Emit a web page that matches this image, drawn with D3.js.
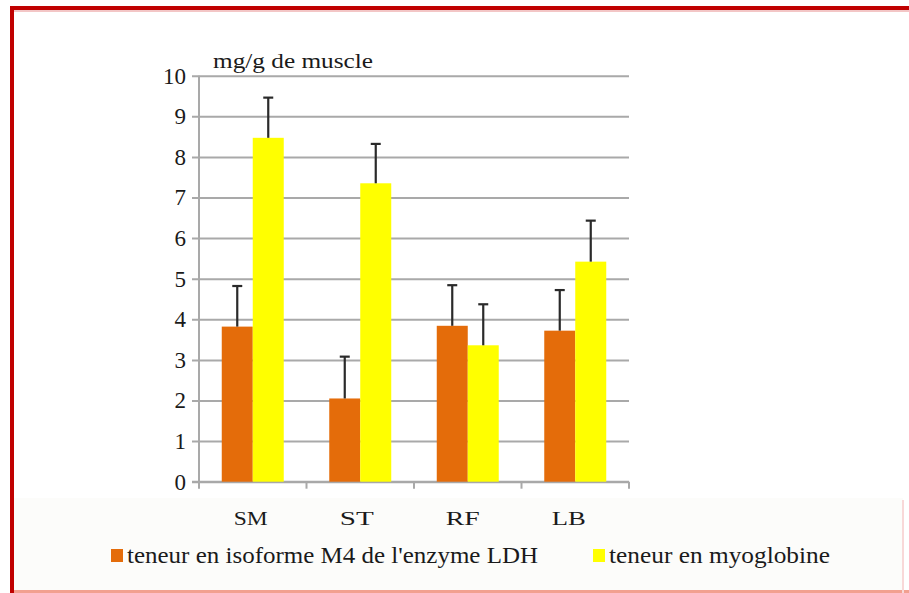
<!DOCTYPE html>
<html>
<head>
<meta charset="utf-8">
<script src="https://cdn.jsdelivr.net/npm/d3@7"></script>
<style>
html,body{margin:0;padding:0;background:#fff;}
svg{display:block;}
</style>
</head>
<body>
<svg id="chart" width="909" height="593" style="font-family:'Liberation Serif'"></svg>
<script>
// ---- data ----
const categories = ["SM", "ST", "RF", "LB"];
const seriesNames = ["teneur en isoforme M4 de l'enzyme LDH", "teneur en myoglobine"];
const ldhValues = [3.82, 2.05, 3.84, 3.72];
const ldhErrors = [1.0, 1.03, 1.0, 1.0];
const myoValues = [8.47, 7.35, 3.36, 5.42];
const myoErrors = [0.99, 0.97, 1.01, 1.01];
const yTicks = [0, 1, 2, 3, 4, 5, 6, 7, 8, 9, 10];
const yUnit = "mg/g de muscle";

(function () {
const FONT = "'Liberation Serif'";
const TXT = "#1a1a1a";
const colors = ["#E46C0A", "#FFFF00"];
const svg = d3.select("#chart");

// frame
svg.append("rect").attr("x", 14).attr("y", 498).attr("width", 889).attr("height", 93).attr("fill", "#fcfcfa");
svg.append("rect").attr("x", 10).attr("y", 10).attr("width", 899).attr("height", 2).attr("fill", "#f3c6c6");
svg.append("rect").attr("x", 10).attr("y", 6).attr("width", 899).attr("height", 4).attr("fill", "#c00000");
svg.append("rect").attr("x", 10).attr("y", 6).attr("width", 4).attr("height", 587).attr("fill", "#c00000");
svg.append("rect").attr("x", 14).attr("y", 590).attr("width", 895).attr("height", 3).attr("fill", "#f2a090");
svg.append("rect").attr("x", 902).attr("y", 500).attr("width", 2).attr("height", 93).attr("fill", "#f8d8d8");

const pLeft = 199, pRight = 629, pTop = 75.7, pBottom = 481.7;
const y = d3.scaleLinear().domain([0, 10]).range([pBottom, pTop]);
const x = d3.scaleBand().domain(categories).range([pLeft, pRight]).padding(0);
const x1 = d3.scaleBand().domain([0, 1]).range([0, x.bandwidth()]).paddingInner(0).paddingOuter(0.734);

// gridlines + y ticks
const yAxis = d3.axisLeft(y).tickValues(yTicks).tickSize(-(pRight - pLeft)).tickPadding(13).tickFormat(d3.format("d"));
const gy = svg.append("g").attr("transform", `translate(${pLeft},0)`).call(yAxis);
gy.attr("font-family", "Liberation Serif").attr("font-size", 23);
gy.select(".domain").remove();
gy.selectAll(".tick line").attr("x1", -7).attr("stroke", "#a9a9a9").attr("stroke-width", 2);
gy.selectAll(".tick text").style("font-family", FONT).style("font-size", "23px").attr("fill", TXT);

// y axis line
svg.append("line").attr("x1", pLeft).attr("x2", pLeft).attr("y1", pTop).attr("y2", pBottom)
  .attr("stroke", "#a9a9a9").attr("stroke-width", 2);

// x axis
const xAxis = d3.axisBottom(x).tickSize(0).tickFormat("");
const gx = svg.append("g").attr("transform", `translate(0,${pBottom})`).call(xAxis);
gx.select(".domain").attr("stroke", "#a9a9a9").attr("stroke-width", 2).attr("d", `M${pLeft - 7},0H${pRight}`);
const boundaries = [pLeft].concat(categories.map(c => x(c) + x.bandwidth()));
gx.selectAll(".bnd").data(boundaries).enter().append("line")
  .attr("x1", d => d).attr("x2", d => d).attr("y1", 0).attr("y2", 7)
  .attr("stroke", "#a9a9a9").attr("stroke-width", 2);

// bars
const series = [
  { vals: ldhValues, errs: ldhErrors },
  { vals: myoValues, errs: myoErrors }
];
series.forEach((s, si) => {
  const g = svg.append("g");
  g.selectAll("rect").data(categories).enter().append("rect")
    .attr("x", c => x(c) + x1(si))
    .attr("y", (c, i) => y(s.vals[i]))
    .attr("width", x1.bandwidth())
    .attr("height", (c, i) => y(0) - y(s.vals[i]))
    .attr("fill", colors[si]);
});
// error bars
series.forEach((s, si) => {
  const g = svg.append("g").attr("stroke", "#2a2a2a").attr("stroke-width", 2.2);
  categories.forEach((c, i) => {
    const cx = x(c) + x1(si) + x1.bandwidth() / 2;
    const yt = y(s.vals[i] + s.errs[i]);
    g.append("line").attr("x1", cx).attr("x2", cx).attr("y1", y(s.vals[i])).attr("y2", yt);
    g.append("line").attr("x1", cx - 5).attr("x2", cx + 5).attr("y1", yt).attr("y2", yt);
  });
});

// unit label
svg.append("text").attr("x", 213).attr("y", 68)
  .style("font-family", FONT).style("font-size", "21px").attr("fill", TXT)
  .attr("textLength", 160).attr("lengthAdjust", "spacingAndGlyphs").text(yUnit);

// category labels
svg.selectAll(".cat").data(categories).enter().append("text")
  .attr("x", (c, i) => x(c) + x.bandwidth() / 2 - 2 - i * 1.5)
  .attr("y", 525).style("font-family", FONT).style("font-size", "19px").attr("fill", TXT)
  .attr("text-anchor", "middle")
  .attr("textLength", 34).attr("lengthAdjust", "spacingAndGlyphs")
  .text(d => d);

// legend
const legendX = [111, 593];
const legendTextLen = [411, 221];
seriesNames.forEach((n, i) => {
  svg.append("rect").attr("x", legendX[i]).attr("y", 549).attr("width", 12).attr("height", 13).attr("fill", colors[i]);
  svg.append("text").attr("x", legendX[i] + 16).attr("y", 563)
    .style("font-family", FONT).style("font-size", "23px").attr("fill", TXT)
    .attr("textLength", legendTextLen[i]).attr("lengthAdjust", "spacingAndGlyphs").text(n);
});

// force text layout so the local font is resolved before capture
svg.selectAll("text").each(function () { this.getComputedTextLength(); });
})();
</script>
</body>
</html>
